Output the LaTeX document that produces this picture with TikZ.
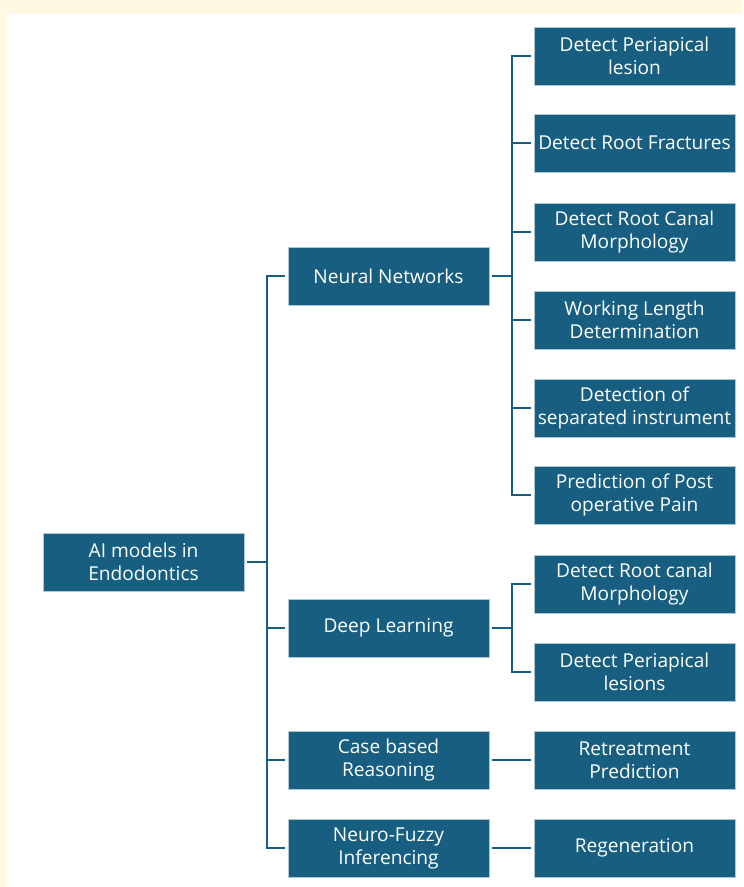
\documentclass[tikz,border=0pt]{standalone}
\usepackage{fontspec}
\setsansfont{Open Sans}
\usetikzlibrary{positioning}
\definecolor{boxB}{RGB}{24,94,128}
\definecolor{bgCream}{RGB}{255,249,227}

\begin{document}
\begin{tikzpicture}[x=0.025cm,y=-0.025cm,font=\sffamily]
  \tikzset{bx/.style={draw=white!65!boxB,line width=0.4pt,fill=boxB,text=white,minimum width=5.025cm,minimum height=1.45cm,align=center,inner sep=1pt,outer sep=3pt,font=\sffamily\fontsize{13.6}{16.4}\selectfont}}
  \tikzset{ln/.style={boxB,line width=1.8pt,line cap=rect}}
  % page and margins
  \fill[bgCream] (0,0) rectangle (743,887);
  \fill[white] (7,14) rectangle (743,887);
  \useasboundingbox (0,0) rectangle (743,887);
  % root
  \node[bx] (root) at (143.5,562) {AI models in\\Endodontics};
  % first level
  \node[bx] (nn) at (388.5,276) {Neural Networks};
  \node[bx] (dl) at (388.5,628) {Deep Learning};
  \node[bx] (cb) at (388.5,760) {Case based\\Reasoning};
  \node[bx] (nf) at (388.5,848) {Neuro-Fuzzy\\Inferencing};
  % second level
  \node[bx] (nn1) at (634.5,56) {Detect Periapical\\lesion};
  \node[bx] (nn2) at (634.5,143) {Detect Root Fractures};
  \node[bx] (nn3) at (634.5,232) {Detect Root Canal\\Morphology};
  \node[bx] (nn4) at (634.5,320) {Working Length\\Determination};
  \node[bx] (nn5) at (634.5,408) {Detection of\\separated instrument};
  \node[bx] (nn6) at (634.5,495) {Prediction of Post\\operative Pain};
  \node[bx] (dl1) at (634.5,584) {Detect Root canal\\Morphology};
  \node[bx] (dl2) at (634.5,672) {Detect Periapical\\lesions};
  \node[bx] (cb1) at (634.5,760) {Retreatment\\Prediction};
  \node[bx] (nf1) at (634.5,848) {Regeneration};
  % junction columns
  \coordinate (tk) at (267,0);
  \coordinate (nj) at (512,0);
  % trunk
  \draw[ln] (root.east) -- (root.east -| tk);
  \draw[ln] (nn.west -| tk) -- (nf.west -| tk);
  \draw[ln] (nn.west -| tk) -- (nn.west);
  \draw[ln] (dl.west -| tk) -- (dl.west);
  \draw[ln] (cb.west -| tk) -- (cb.west);
  \draw[ln] (nf.west -| tk) -- (nf.west);
  % neural networks branch
  \draw[ln] (nn.east) -- (nn.east -| nj);
  \draw[ln] (nn1.west -| nj) -- (nn6.west -| nj);
  \draw[ln] (nn1.west -| nj) -- (nn1.west);
  \draw[ln] (nn2.west -| nj) -- (nn2.west);
  \draw[ln] (nn3.west -| nj) -- (nn3.west);
  \draw[ln] (nn4.west -| nj) -- (nn4.west);
  \draw[ln] (nn5.west -| nj) -- (nn5.west);
  \draw[ln] (nn6.west -| nj) -- (nn6.west);
  % deep learning branch
  \draw[ln] (dl.east) -- (dl.east -| nj);
  \draw[ln] (dl1.west -| nj) -- (dl2.west -| nj);
  \draw[ln] (dl1.west -| nj) -- (dl1.west);
  \draw[ln] (dl2.west -| nj) -- (dl2.west);
  % single children
  \draw[ln] (cb) -- (cb1);
  \draw[ln] (nf) -- (nf1);
\end{tikzpicture}
\end{document}
